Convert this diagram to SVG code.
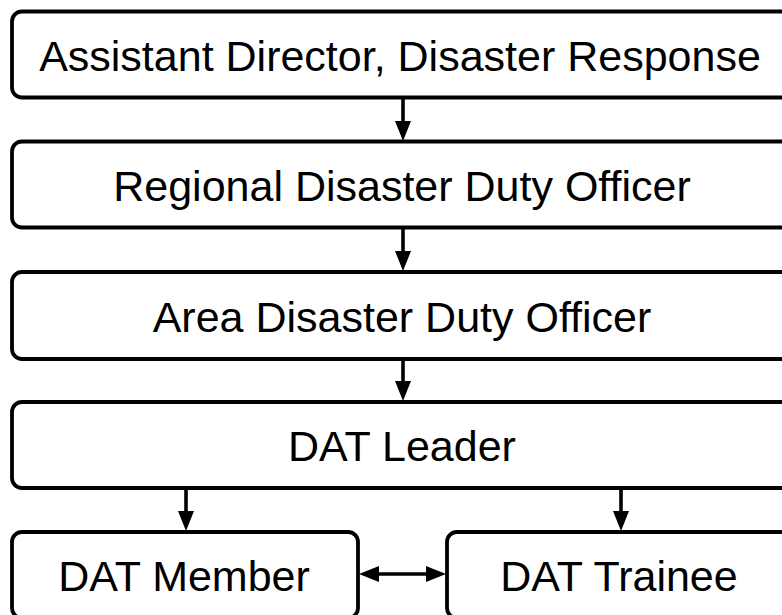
<svg xmlns="http://www.w3.org/2000/svg" width="782" height="615" viewBox="0 0 782 615">
  <style>
    .box { fill: #ffffff; stroke: #000000; stroke-width: 3.8; }
    .label { font-family: "Liberation Sans", Arial, Helvetica, sans-serif; font-size: 43px; fill: #000000; text-anchor: middle; }
    .link { fill: none; stroke: #000000; stroke-width: 3.6; }
  </style>
  <defs>
    <marker id="head" viewBox="0 0 20 16" refX="10" refY="8" markerWidth="20" markerHeight="16" markerUnits="userSpaceOnUse" orient="auto-start-reverse">
      <path d="M0,0 L20,8 L0,16 Z" fill="#000000"/>
    </marker>
  </defs>
  <rect width="782" height="615" fill="#ffffff"/>

  <g id="connectors">
    <path class="link" d="M403,97.5 V131" marker-end="url(#head)"/>
    <path class="link" d="M403,227.5 V261" marker-end="url(#head)"/>
    <path class="link" d="M403,359 V391" marker-end="url(#head)"/>
    <path class="link" d="M186,488 V521" marker-end="url(#head)"/>
    <path class="link" d="M621,488 V521" marker-end="url(#head)"/>
    <path class="link" d="M369,574 H436" marker-start="url(#head)" marker-end="url(#head)"/>
  </g>

  <g id="assistant-director">
    <rect class="box" x="12" y="11.5" width="782" height="86" rx="10"/>
    <text class="label" x="400" y="71">Assistant Director, Disaster Response</text>
  </g>
  <g id="regional-duty-officer">
    <rect class="box" x="12" y="141.5" width="782" height="86" rx="10"/>
    <text class="label" x="402" y="201">Regional Disaster Duty Officer</text>
  </g>
  <g id="area-duty-officer">
    <rect class="box" x="12" y="272" width="782" height="87" rx="10"/>
    <text class="label" x="402" y="332">Area Disaster Duty Officer</text>
  </g>
  <g id="dat-leader">
    <rect class="box" x="12" y="402" width="782" height="86" rx="10"/>
    <text class="label" x="402" y="461">DAT Leader</text>
  </g>
  <g id="dat-member">
    <rect class="box" x="12" y="532" width="346" height="86" rx="10"/>
    <text class="label" x="184" y="591">DAT Member</text>
  </g>
  <g id="dat-trainee">
    <rect class="box" x="447" y="532" width="348" height="86" rx="10"/>
    <text class="label" x="619" y="591">DAT Trainee</text>
  </g>
</svg>
